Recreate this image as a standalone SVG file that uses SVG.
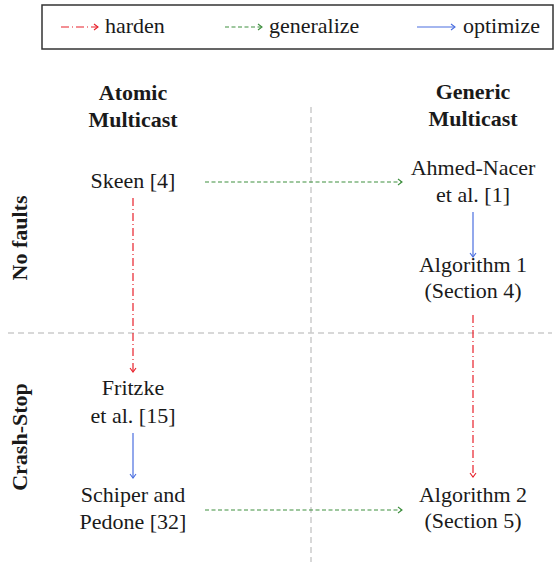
<svg xmlns="http://www.w3.org/2000/svg" width="555" height="565" viewBox="0 0 555 565">
<style>
.grid{stroke:#cccccc;stroke-width:1.5;stroke-dasharray:6 4;fill:none}
.harden{stroke:#e8202a;stroke-width:1.2;stroke-dasharray:8 3 1 3;fill:none}
.gen{stroke:#3e8f3e;stroke-width:1.2;stroke-dasharray:4 2.5;fill:none}
.opt{stroke:#4a6ee0;stroke-width:1.2;fill:none}
</style>
<defs>
<marker id="mr" markerWidth="8" markerHeight="8" refX="6" refY="4" orient="auto" markerUnits="userSpaceOnUse"><polyline points="2,1 6,4 2,7" fill="none" stroke="#e8202a" stroke-width="1.1"/></marker>
<marker id="mg" markerWidth="8" markerHeight="8" refX="6" refY="4" orient="auto" markerUnits="userSpaceOnUse"><polyline points="2,1 6,4 2,7" fill="none" stroke="#3e8f3e" stroke-width="1.1"/></marker>
<marker id="mb" markerWidth="8" markerHeight="8" refX="6" refY="4" orient="auto" markerUnits="userSpaceOnUse"><polyline points="2,1 6,4 2,7" fill="none" stroke="#4a6ee0" stroke-width="1.1"/></marker>
</defs>
<g font-family="'Liberation Serif', serif" font-size="22" fill="#1a1a1a">
<g id="legend">
<rect x="42" y="5" width="511" height="44" fill="none" stroke="#333" stroke-width="1.5"/>
<line x1="61" y1="27" x2="98" y2="27" class="harden" marker-end="url(#mr)"/>
<text x="105" y="33">harden</text>
<line x1="225" y1="27" x2="262" y2="27" class="gen" marker-end="url(#mg)"/>
<text x="269" y="33">generalize</text>
<line x1="417" y1="27" x2="455" y2="27" class="opt" marker-end="url(#mb)"/>
<text x="463" y="33">optimize</text>
</g>
<g id="grid">
<line x1="311" y1="107" x2="311" y2="562" class="grid"/>
<line x1="8" y1="333" x2="552" y2="333" class="grid"/>
</g>
<g id="headers" font-weight="bold" text-anchor="middle">
<text x="133" y="100">Atomic</text>
<text x="133" y="127">Multicast</text>
<text x="473" y="99">Generic</text>
<text x="473" y="126">Multicast</text>
<text transform="translate(27,238) rotate(-90)">No faults</text>
<text transform="translate(27,437) rotate(-90)">Crash-Stop</text>
</g>
<g text-anchor="middle">
<g id="skeen"><text x="133" y="188">Skeen [4]</text></g>
<g id="ahmed"><text x="473" y="175">Ahmed-Nacer</text><text x="473" y="202">et al. [1]</text></g>
<g id="alg1"><text x="473" y="272">Algorithm 1</text><text x="473" y="298">(Section 4)</text></g>
<g id="fritzke"><text x="133" y="395">Fritzke</text><text x="133" y="423">et al. [15]</text></g>
<g id="schiper"><text x="133" y="502">Schiper and</text><text x="133" y="529">Pedone [32]</text></g>
<g id="alg2"><text x="473" y="502">Algorithm 2</text><text x="473" y="528">(Section 5)</text></g>
</g>
</g>
<g id="connectors">
<line x1="205" y1="182" x2="402" y2="182" class="gen" marker-end="url(#mg)"/>
<line x1="473" y1="212" x2="473" y2="257" class="opt" marker-end="url(#mb)"/>
<line x1="133" y1="198" x2="133" y2="372" class="harden" marker-end="url(#mr)"/>
<line x1="473" y1="315" x2="473" y2="477" class="harden" marker-end="url(#mr)"/>
<line x1="133" y1="433" x2="133" y2="478" class="opt" marker-end="url(#mb)"/>
<line x1="205" y1="510" x2="402" y2="510" class="gen" marker-end="url(#mg)"/>
</g>
</svg>
